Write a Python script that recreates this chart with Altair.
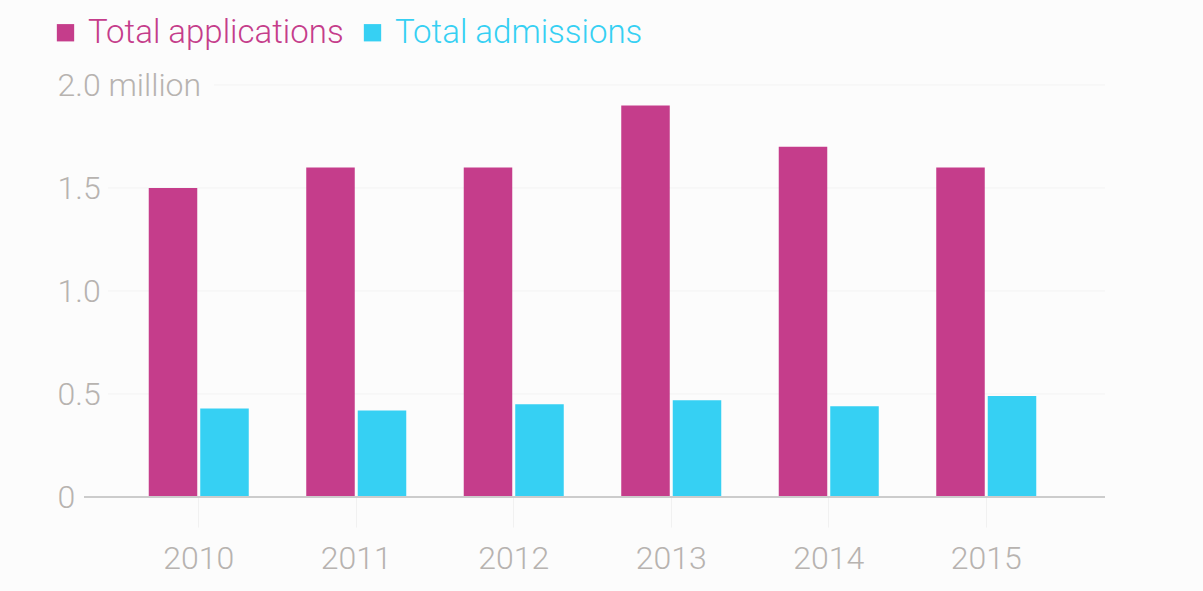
import altair as alt
import pandas as pd

years = ["2010", "2011", "2012", "2013", "2014", "2015"]
applications = [1.5, 1.6, 1.6, 1.9, 1.7, 1.6]
admissions = [0.43, 0.42, 0.45, 0.47, 0.44, 0.49]
series_names = ["Total applications", "Total admissions"]
series_colors = ["#c53d8b", "#36d0f3"]
grid_values = [0.5, 1.0, 1.5]
top_value = [2.0]
base_value = [0.0]

rows = []
for y, a, m in zip(years, applications, admissions):
    rows.append({"year": y, "series": series_names[0], "value": a})
    rows.append({"year": y, "series": series_names[1], "value": m})
df = pd.DataFrame(rows)

FONT = "Roboto"
LABEL_COLOR = "#b7b3b0"

yscale = alt.Scale(domain=[0, 2.0], nice=False)

grid = alt.Chart(pd.DataFrame({"v": grid_values})).mark_rule(
    color="#f3f3f3", strokeWidth=1
).encode(
    y=alt.Y("v:Q", scale=yscale),
    x=alt.value(-12), x2=alt.value(985)
)
grid_top = alt.Chart(pd.DataFrame({"v": top_value})).mark_rule(
    color="#f3f3f3", strokeWidth=1
).encode(
    y=alt.Y("v:Q", scale=yscale),
    x=alt.value(94), x2=alt.value(985)
)

bars = alt.Chart(df).mark_bar().encode(
    x=alt.X("year:N", sort=years,
            scale=alt.Scale(paddingInner=0.365, paddingOuter=0.1825),
            axis=alt.Axis(title=None, domain=False, ticks=True, tickSize=30,
                          tickColor="#f1f1f1", tickWidth=1, labelPadding=16,
                          labelFont=FONT, labelFontSize=32, labelFontWeight=300,
                          labelColor=LABEL_COLOR, labelAngle=0)),
    xOffset=alt.XOffset("series:N", sort=series_names,
                        scale=alt.Scale(paddingInner=0.058, paddingOuter=0)),
    y=alt.Y("value:Q", scale=yscale,
            axis=alt.Axis(title=None, values=[0, 0.5, 1.0, 1.5, 2.0], grid=False,
                          domain=False, ticks=False, labelAlign="left",
                          labelBaseline="middle", labelPadding=63,
                          labelFont=FONT, labelFontSize=32, labelFontWeight=300,
                          labelColor=LABEL_COLOR,
                          labelExpr="datum.value == 2 ? '2.0 million' : datum.value == 0 ? '0' : format(datum.value, '.1f')")),
    color=alt.Color("series:N", sort=series_names,
                    scale=alt.Scale(domain=series_names, range=series_colors),
                    legend=alt.Legend(title=None, orient="none", direction="horizontal",
                                      legendX=-71, legendY=-69,
                                      symbolType="square", symbolSize=300,
                                      symbolStrokeWidth=0, symbolOpacity=1,
                                      labelFont=FONT, labelFontSize=33, labelFontWeight=300,
                                      labelOffset=6, columnPadding=12,
                                      labelColor={"expr": "datum.label == 'Total applications' ? '#c53d8b' : '#36d0f3'"},
                                      labelLimit=400)),
)

base = alt.Chart(pd.DataFrame({"v": base_value})).mark_rule(
    color="#cccccc", strokeWidth=2
).encode(
    y=alt.Y("v:Q", scale=yscale),
    x=alt.value(-36), x2=alt.value(985)
)

chart = alt.layer(grid, grid_top, bars, base).properties(
    width=945, height=412,
    background="#fcfcfc",
    padding={"left": 120, "top": 85, "right": 138, "bottom": 94},
    autosize=alt.AutoSizeParams(type="none"),
).configure_view(stroke=None)

chart.save("out.html", embed_options={"renderer": "svg", "actions": False})
